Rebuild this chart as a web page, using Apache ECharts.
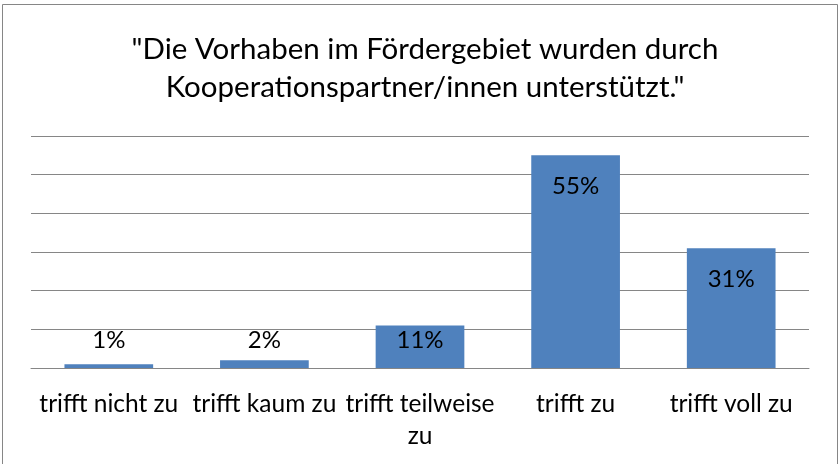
<!DOCTYPE html>
<html lang="de">
<head>
	<meta charset="UTF-8">
	<title>Kooperationspartner</title>
	<style type="text/css">
		html, body { margin: 0; padding: 0; background: #fff; }
		#main { width: 839px; height: 464px; }
	</style>
	<script src="https://cdn.jsdelivr.net/npm/echarts@6/dist/echarts.min.js"></script>
</head>
<body>
	<div id="main"></div>
	<script type="text/javascript">
	var categories = ['trifft nicht zu', 'trifft kaum zu', 'trifft teilweise zu', 'trifft zu', 'trifft voll zu']
	var tickLabels = ['trifft nicht zu', 'trifft kaum zu', 'trifft teilweise\nzu', 'trifft zu', 'trifft voll zu']
	var values = [1, 2, 11, 55, 31]
	var titleText = '"Die Vorhaben im Fördergebiet wurden durch\nKooperationspartner/innen unterstützt."'

	var fontName = 'Lato'
	var gray = '#868686'

	var barData = []
	for (var i = 0; i < values.length; i++) {
		var big = values[i] > 20
		barData.push({
			value: values[i],
			label: big ? { position: 'insideTop', distance: 19 } : { position: 'insideBottom', distance: 16 }
		})
	}

	var myChart = echarts.init(document.getElementById('main'))
	var option = {
		animation: false,
		title: {
			text: titleText,
			left: 420,
			top: 25,
			textAlign: 'center',
			textStyle: {
				fontFamily: fontName,
				fontSize: 29.5,
				fontWeight: 'normal',
				color: '#000',
				lineHeight: 38
			}
		},
		graphic: [{
			type: 'rect',
			shape: { x: 2.5, y: 4.5, width: 835, height: 470 },
			style: { fill: 'none', stroke: gray, lineWidth: 1 },
			silent: true
		}],
		grid: {
			left: 31,
			right: 30,
			top: 136,
			bottom: 96,
			containLabel: false
		},
		xAxis: {
			type: 'category',
			data: categories,
			axisLine: { lineStyle: { color: gray, width: 1 } },
			axisTick: { show: false },
			axisLabel: {
				interval: 0,
				margin: 20,
				color: '#000',
				fontFamily: fontName,
				fontSize: 24.5,
				lineHeight: 32,
				formatter: function (v, idx) { return tickLabels[idx] }
			}
		},
		yAxis: {
			type: 'value',
			min: 0,
			max: 60,
			interval: 10,
			axisLine: { show: false },
			axisTick: { show: false },
			axisLabel: { show: false },
			splitLine: { lineStyle: { color: gray, width: 1 } }
		},
		series: [{
			type: 'bar',
			data: barData,
			barCategoryGap: '43%',
			itemStyle: { color: '#4F81BD' },
			label: {
				show: true,
				formatter: '{c}%',
				color: '#000',
				fontFamily: fontName,
				fontSize: 24
			}
		}]
	}
	myChart.setOption(option)
	</script>
</body>
</html>
